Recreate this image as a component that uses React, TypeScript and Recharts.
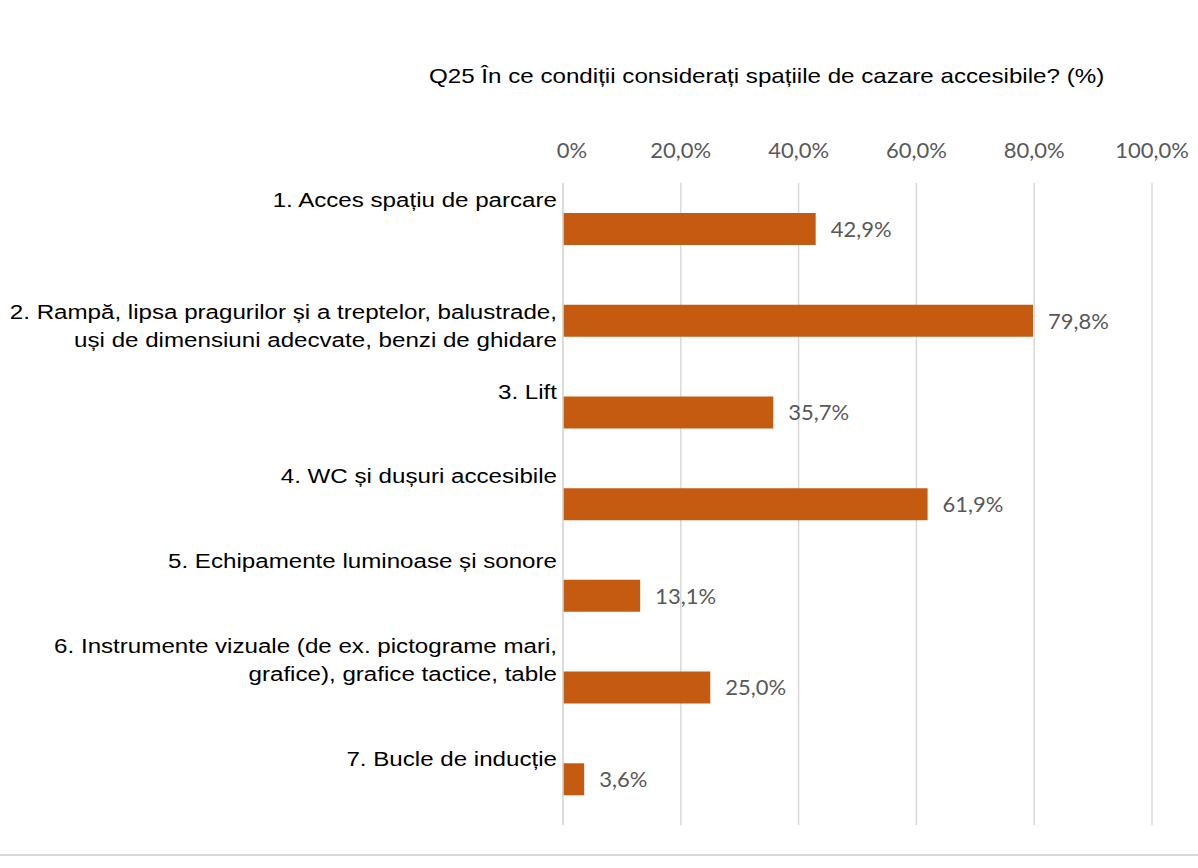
import { Bar, BarChart, CartesianGrid, LabelList, XAxis, YAxis } from 'recharts';

const categories = [
  '1. Acces spațiu de parcare',
  '2. Rampă, lipsa pragurilor și a treptelor, balustrade,\nuși de dimensiuni adecvate, benzi de ghidare',
  '3. Lift',
  '4. WC și dușuri accesibile',
  '5. Echipamente luminoase și sonore',
  '6. Instrumente vizuale (de ex. pictograme mari,\ngrafice), grafice tactice, table',
  '7. Bucle de inducție',
];
const values = [42.9, 79.8, 35.7, 61.9, 13.1, 25.0, 3.6];
const xTicks = [0, 20, 40, 60, 80, 100];
const title = 'Q25 În ce condiții considerați spațiile de cazare accesibile? (%)';

const data = categories.map((name, i) => ({ name, value: values[i] }));

// vertical nudge of each category label (first line) from its band centre
const labelShift = [-29.5, -8.5, -21, -28.5, -35, -41.5, -21];

const fmtPct = (v: number) => (v === 0 ? '0%' : v.toFixed(1).replace('.', ',') + '%');

const labelFont = "'Liberation Sans', Arial, sans-serif";
const numFont = 'Lato, sans-serif';

function CategoryTick(props: any) {
  const { x, y, payload, index } = props;
  const lines = String(payload.value).split('\n');
  const shift = labelShift[index] ?? 0;
  return (
    <g transform={`translate(${x + 2},${y + shift}) scale(1.15,1)`}>
      <text textAnchor="end" dominantBaseline="central" fill="#000" fontSize={21} fontFamily={labelFont}>
        {lines.map((l, i) => (
          <tspan key={i} x={0} dy={i === 0 ? 0 : 28}>
            {l}
          </tspan>
        ))}
      </text>
    </g>
  );
}

function PctTick(props: any) {
  const { x, y, payload } = props;
  const dx = payload.value === 0 ? 9 : 0;
  return (
    <text x={x + dx} y={y} textAnchor="middle" fill="#595959" fontSize={22} fontFamily={numFont}>
      {fmtPct(payload.value)}
    </text>
  );
}

export default function App() {
  return (
    <div style={{ position: 'absolute', left: 0, top: 0, width: 1198, height: 868, background: '#fff' }}>
      <div
        style={{
          position: 'absolute',
          left: 429,
          top: 64,
          fontFamily: labelFont,
          fontSize: 21,
          color: '#000',
          whiteSpace: 'nowrap',
          transform: 'scaleX(1.15)',
          transformOrigin: 'left center',
        }}
      >
        {title}
      </div>
      <BarChart
        width={1198}
        height={868}
        data={data}
        layout="vertical"
        margin={{ top: 143, right: 46, bottom: 43, left: 0 }}
      >
        <CartesianGrid horizontal={false} stroke="#d9d9d9" strokeWidth={1.5} />
        <XAxis
          type="number"
          orientation="top"
          domain={[0, 100]}
          ticks={xTicks}
          axisLine={false}
          tickLine={false}
          height={40}
          tickMargin={19}
          tick={<PctTick />}
        />
        <YAxis
          type="category"
          dataKey="name"
          width={563}
          axisLine={{ stroke: '#d9d9d9', strokeWidth: 1.5 }}
          tickLine={false}
          tick={<CategoryTick />}
          interval={0}
        />
        <Bar dataKey="value" fill="#C55A11" barSize={32} isAnimationActive={false}>
          <LabelList
            dataKey="value"
            position="right"
            offset={15}
            formatter={(v: any) => fmtPct(Number(v))}
            style={{ fill: '#595959', fontSize: 22, fontFamily: numFont }}
          />
        </Bar>
      </BarChart>
      <div style={{ position: 'absolute', left: 0, top: 854, width: 1198, height: 2, background: '#d9d9d9' }} />
    </div>
  );
}
